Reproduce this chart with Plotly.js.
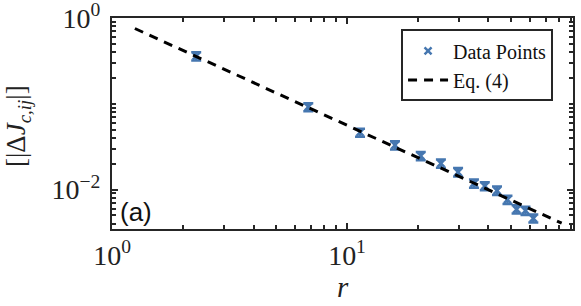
<!DOCTYPE html>
<html>
<head>
<meta charset="utf-8">
<script src="https://cdn.plot.ly/plotly-3.0.1.min.js"></script>
<style>html,body{margin:0;padding:0;background:#fff;}#chart{width:581px;height:306px;}</style>
</head>
<body>
<div id="chart"></div>
<script>
// Data
const rValues = [2.28, 6.84, 11.36, 16.0, 20.6, 25.1, 29.7, 34.7, 38.6, 43.5, 48.2, 52.7, 57.5, 62.1];
const dJValues = [0.360, 0.0918, 0.0463, 0.0329, 0.0247, 0.0202, 0.0160, 0.0118, 0.0110, 0.00973, 0.00763, 0.00589, 0.00567, 0.00462];
const dJErrors = [0.040, 0.010, 0.005, 0.0036, 0.0027, 0.0022, 0.0018, 0.0013, 0.0012, 0.0011, 0.00085, 0.00065, 0.00063, 0.0005];
const fitR = [1.25, 82];
const fitValues = [0.755, 0.00405];
const xTickVals = [1, 10];
const xTickText = ['10<sup>0</sup>', '10<sup>1</sup>'];
const yTickVals = [1, 0.01];
const yTickText = ['10<sup>0</sup>', '10<sup>\u22122</sup>'];
const xMinorVals = [2,3,4,5,6,7,8,9,20,30,40,50,60,70,80,90];
const yMinorVals = [0.004,0.005,0.006,0.007,0.008,0.009,0.02,0.03,0.04,0.05,0.06,0.07,0.08,0.09,0.1,0.2,0.3,0.4,0.5,0.6,0.7,0.8,0.9];
const xTitle = '<i>r</i>';
const yTitle = '[|\u0394<i>J</i><sub><i>c,ij</i></sub>|]';

const blue = '#4677B0';
const axisColor = '#262626';
const serif = 'Liberation Serif, DejaVu Serif, serif';

const traces = [
  {
    x: rValues, y: dJValues, type: 'scatter', mode: 'markers', name: 'Data Points',
    marker: {symbol: 'x-thin', size: 7, color: blue, line: {color: blue, width: 2.5}},
    error_y: {type: 'data', array: dJErrors, visible: true, color: blue, thickness: 2.5, width: 5}
  },
  {
    x: fitR, y: fitValues, type: 'scatter', mode: 'lines', name: 'Eq. (4)',
    line: {color: '#000', width: 3, dash: '9px,7px'}
  }
];

const axisCommon = {
  type: 'log', showgrid: false, zeroline: false, showline: true, linecolor: axisColor, linewidth: 2,
  mirror: 'allticks', ticks: 'inside', ticklen: 6, tickwidth: 2, tickcolor: axisColor,
  tickmode: 'array', ticklabeloverflow: 'allow', tickfont: {family: serif, size: 28, color: '#222'}
};

const layout = {
  width: 581, height: 306,
  margin: {l: 112, r: 8, t: 18, b: 77},
  paper_bgcolor: '#fff', plot_bgcolor: '#fff',
  showlegend: true,
  legend: {
    x: 0.627, y: 0.946, xanchor: 'left', yanchor: 'top',
    bgcolor: '#fff', bordercolor: axisColor, borderwidth: 2,
    font: {family: serif, size: 20, color: '#111'},
    tracegroupgap: 0, itemwidth: 40
  },
  xaxis: Object.assign({}, axisCommon, {
    range: [-0.0005, 1.962], tickvals: xTickVals, ticktext: xTickText,
    minor: {tickmode: 'array', tickvals: xMinorVals, ticks: 'inside', ticklen: 4, tickwidth: 2, tickcolor: axisColor}
  }),
  yaxis: Object.assign({}, axisCommon, {
    range: [-2.46, 0.0005], tickvals: yTickVals, ticktext: yTickText, ticklabelstandoff: 4,
    minor: {tickmode: 'array', tickvals: yMinorVals, ticks: 'inside', ticklen: 4, tickwidth: 2, tickcolor: axisColor}
  }),
  annotations: [
    {xref: 'paper', yref: 'paper', x: 0.012, y: 0.0, xanchor: 'left', yanchor: 'bottom',
     text: '(a)', showarrow: false, font: {family: 'Liberation Sans, Arial, sans-serif', size: 26, color: '#111'}},
    {xref: 'paper', yref: 'paper', x: 0.5, y: -0.275, xanchor: 'center', yanchor: 'middle',
     text: xTitle, showarrow: false, font: {family: serif, size: 29, color: '#222'}},
    {xref: 'paper', yref: 'paper', x: -0.205, y: 0.49, xanchor: 'center', yanchor: 'middle', textangle: -90,
     text: yTitle, showarrow: false, font: {family: serif, size: 27, color: '#222'}}
  ]
};

Plotly.newPlot('chart', traces, layout, {staticPlot: true, displayModeBar: false});
</script>
</body>
</html>
